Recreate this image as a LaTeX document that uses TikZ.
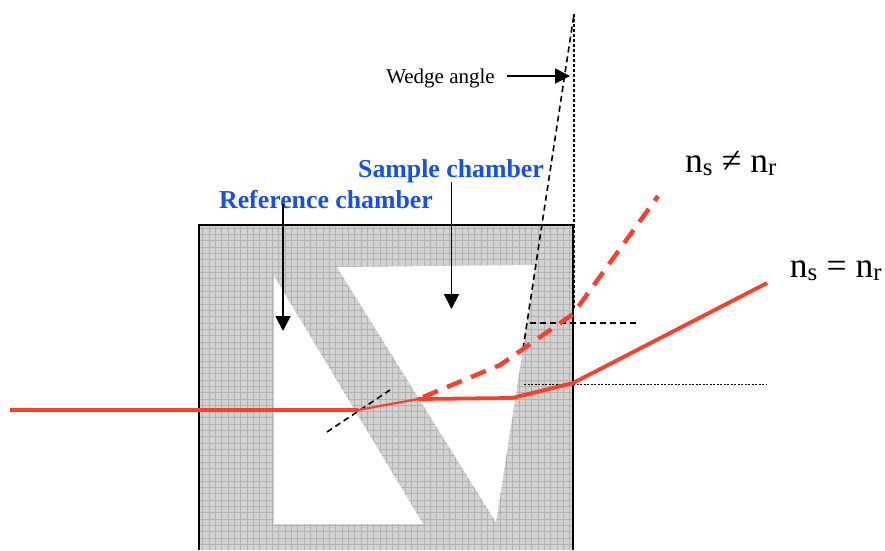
\documentclass[tikz,border=0pt]{standalone}
\usepackage{amsmath}
\usepackage{fontspec}
\setmainfont{Liberation Serif}
\usepackage{tikz}
\usetikzlibrary{arrows.meta,positioning,calc}
\definecolor{raycolor}{RGB}{255,62,40}
\definecolor{labelblue}{RGB}{20,80,240}
\definecolor{prismgray}{RGB}{210,210,210}
\definecolor{meshgray}{RGB}{178,178,178}
\tikzset{
    chamberlabel/.style={font=\fontsize{25.8}{28}\selectfont\bfseries, text=labelblue, inner sep=0pt, anchor=base},
    indexlabel/.style={font=\fontsize{35.5}{38}\selectfont, inner sep=0pt, anchor=base},
    chamber/.style={fill=white, draw=none},
    pointer/.style={line width=1.9pt, -{Triangle[length=15pt,width=15pt]}},
    rayline/.style={draw=raycolor, line width=3.8pt, line join=round},
    guideline/.style={line width=1.6pt, dash pattern=on 6pt off 4pt}
}
\begin{document}
\begin{tikzpicture}[x=1pt,y=-1pt]
    \useasboundingbox (0,0) rectangle (885,550);
    % prism block
    \fill[prismgray] (199,225) rectangle (573,550);
    \begin{scope}
        \clip (199,225) rectangle (573,550);
        \draw[meshgray, line width=0.6pt, step=6.33pt] (199,225) grid (573,550);
    \end{scope}
    \draw[line width=1.7pt] (199,550) -- (199,225) -- (573,225);
    \draw[line width=2.2pt] (573,225) -- (573,550);
    \fill[chamber] (274,276) -- (423,524) -- (274,524) -- cycle;
    \fill[chamber] (337,267) -- (536,265) -- (496,522) -- cycle;

    % end points
    \coordinate (rayin) at (10,410);
    \coordinate (refin) at (358,410);
    \coordinate (refout) at (418,399);
    \coordinate (wallin) at (512,398);
    \coordinate (wallout) at (573,383);
    \coordinate (rayend) at (767,283);
    \coordinate (bendin) at (523,349);
    \coordinate (bendmid) at (500,365);
    \coordinate (bendout) at (573,314);
    \coordinate (dashstart) at (423,397);
    \coordinate (dashend) at (658,196);
    \coordinate (wedgetop) at (574,14);
    \coordinate (wedgebase) at (574,225);

    % guide lines
    \draw[guideline] (bendin) -- (wedgetop);
    \draw[line width=1.1pt, dash pattern=on 3pt off 2pt] (wedgetop) -- (wedgebase);
    \draw[line width=1.1pt, dash pattern=on 3pt off 2pt] (wedgebase) -- (574,310);
    \draw[guideline] (530,323) -- (637,323);
    \draw[line width=1pt, dash pattern=on 2pt off 1.5pt] (524,384) -- (767,384);
    \draw[guideline] (327,432) -- (390,390);

    % rays
    \draw[rayline] (rayin) -- (refin);
    \draw[draw=raycolor, line width=2.2pt] (refin) -- (refout);
    \draw[rayline] (refout) -- (wallin) -- (wallout) -- (rayend);
    \draw[rayline, line width=4.4pt, dash pattern=on 16pt off 10pt] (dashstart) -- (bendmid) -- (bendin) -- (bendout) -- (dashend);

    % labels
    \node[chamberlabel] (samplelabel) at (451,177) {Sample chamber};
    \node[chamberlabel] (referencelabel) at (326,208) {Reference chamber};
    \node[font=\fontsize{21}{23}\selectfont, inner sep=0pt, anchor=base] (wedgelabel) at (440.5,83) {Wedge angle};
    \node[indexlabel] (unequallabel) at (731,172) {n\textsubscript{s} ≠ n\textsubscript{r}};
    \node[indexlabel] (equallabel) at (836,277) {n\textsubscript{s} = n\textsubscript{r}};

    % pointers
    \coordinate (sampletip) at (451.5,309);
    \coordinate (referencetip) at (283,331);
    \coordinate (wedgetip) at (570,76);
    \draw[pointer] (451.5,182) -- (sampletip);
    \draw[pointer] (283,204) -- (referencetip);
    \draw[pointer] (507,76) -- (wedgetip);
\end{tikzpicture}
\end{document}
